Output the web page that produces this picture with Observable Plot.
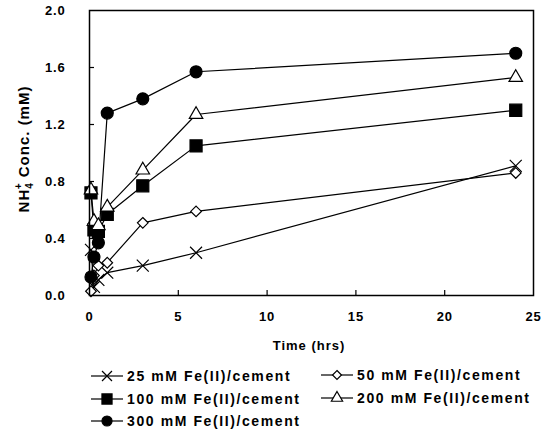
<!DOCTYPE html>
<html><head><meta charset="utf-8">
<script src="https://cdn.jsdelivr.net/npm/d3@7"></script>
<script src="https://cdn.jsdelivr.net/npm/@observablehq/plot@0.6"></script>
<style>
body{margin:0;background:#fff;font-family:"Liberation Sans",Arial,sans-serif;}
#chart{width:546px;position:relative}
#legend{position:relative;width:546px;height:77px;}
.item{position:absolute;display:flex;align-items:center;font:bold 14px "Liberation Sans",Arial,sans-serif;letter-spacing:1.6px;color:#000;white-space:nowrap}
.item svg{margin-right:3px}
</style></head><body><div id="chart"></div><div id="legend"></div>
<script>
// Data
const hours = [0.083, 0.25, 0.5, 1, 3, 6, 24];
const seriesNames = ["25 mM Fe(II)/cement", "50 mM Fe(II)/cement", "100 mM Fe(II)/cement", "200 mM Fe(II)/cement", "300 mM Fe(II)/cement"];
const conc25  = [0.32, 0.06, 0.11, 0.16, 0.21, 0.30, 0.91];
const conc50  = [0.03, 0.14, 0.21, 0.23, 0.51, 0.59, 0.86];
const conc100 = [0.72, 0.46, 0.45, 0.57, 0.77, 1.05, 1.30];
const conc200 = [0.74, 0.52, 0.49, 0.62, 0.88, 1.27, 1.53];
const conc300 = [0.13, 0.27, 0.37, 1.28, 1.38, 1.57, 1.70];
const xTicks = [0, 5, 10, 15, 20, 25];
const yTicks = [0, 0.4, 0.8, 1.2, 1.6, 2.0];

// Styles
const symbolMap = {times: d3.symbolTimes, diamond2: d3.symbolDiamond2, square: d3.symbolSquare, triangle: d3.symbolTriangle, circle: d3.symbolCircle};
const styles = [
  {symbol: "times", fill: "none", r: 5.5},
  {symbol: "diamond2", fill: "white", r: 4.8},
  {symbol: "square", fill: "black", r: 6.8},
  {symbol: "triangle", fill: "white", r: 5},
  {symbol: "circle", fill: "black", r: 6}
];

const seriesValues = [conc25, conc50, conc100, conc200, conc300];
const tables = seriesValues.map((vals, i) => vals.map((v, j) => ({series: seriesNames[i], t: hours[j], v})));

const font = '"Liberation Sans", Arial, sans-serif';
const plot = Plot.plot({
  width: 546,
  height: 355,
  marginLeft: 89,
  marginRight: 13,
  marginTop: 10,
  marginBottom: 60,
  style: {fontFamily: font, fontSize: "13px", fontWeight: "bold", color: "black", background: "white", letterSpacing: "0.8px"},
  x: {domain: [0, 25]},
  y: {domain: [0, 2]},
  marks: [
    ...tables.map(tb => Plot.line(tb, {x: "t", y: "v", stroke: "black", strokeWidth: 1.2})),
    ...tables.map((tb, i) => Plot.dot(tb, {x: "t", y: "v", symbol: () => styles[i].symbol, fill: styles[i].fill, stroke: "black", strokeWidth: 1.2, r: styles[i].r})),
    Plot.tickX(xTicks.slice(1, -1), {x: d => d, stroke: "black", strokeWidth: 1.2, insetTop: 280}),
    Plot.tickY(yTicks.slice(1, -1), {y: d => d, stroke: "black", strokeWidth: 1.2, insetRight: 439}),
    Plot.axisX({ticks: xTicks, tickSize: 0, tickPadding: 16, tickFormat: d3.format("d"), label: null, fontSize: 13}),
    Plot.axisY({ticks: yTicks, tickSize: 0, tickPadding: 24, tickFormat: d3.format(".1f"), label: null, fontSize: 13}),
    Plot.frame({stroke: "black", strokeWidth: 1.5})
  ]
});
document.getElementById("chart").appendChild(plot);

const svg = d3.select(plot);
// x-axis label
svg.append("text")
  .attr("x", 309).attr("y", 350)
  .attr("text-anchor", "middle")
  .attr("font-family", font).attr("font-weight", "bold").attr("font-size", 13)
  .attr("letter-spacing", "1px")
  .attr("fill", "black").text("Time (hrs)");

// y-axis label with subscript/superscript
const yl = svg.append("text")
  .attr("transform", "translate(29,149) rotate(-90)")
  .attr("text-anchor", "middle")
  .attr("font-family", font).attr("font-weight", "bold").attr("font-size", 15)
  .attr("letter-spacing", "1px")
  .attr("fill", "black");
yl.append("tspan").text("NH");
yl.append("tspan").attr("font-size", 10).attr("dy", 4).text("4");
yl.append("tspan").attr("font-size", 10).attr("dx", -7).attr("dy", -11).text("+");
yl.append("tspan").attr("dy", 7).text(" Conc. (mM)");

// Legend
const legendPos = [
  {left: 90, top: 21}, {left: 320, top: 20},
  {left: 90, top: 44}, {left: 320, top: 43},
  {left: 90, top: 66}
];
const legend = d3.select("#legend");
seriesNames.forEach((name, i) => {
  const it = legend.append("div").attr("class", "item")
    .style("left", legendPos[i].left + "px").style("top", (legendPos[i].top - 9) + "px");
  const s = it.append("svg").attr("width", 34).attr("height", 18);
  s.append("line").attr("x1", 1).attr("x2", 33).attr("y1", 9).attr("y2", 9).attr("stroke", "black").attr("stroke-width", 1.2);
  s.append("path").attr("transform", "translate(17,9)")
    .attr("d", d3.symbol(symbolMap[styles[i].symbol], styles[i].r * styles[i].r * Math.PI * 0.7)())
    .attr("fill", styles[i].fill).attr("stroke", "black").attr("stroke-width", 1.2);
  it.append("span").text(name);
});
</script></body></html>
